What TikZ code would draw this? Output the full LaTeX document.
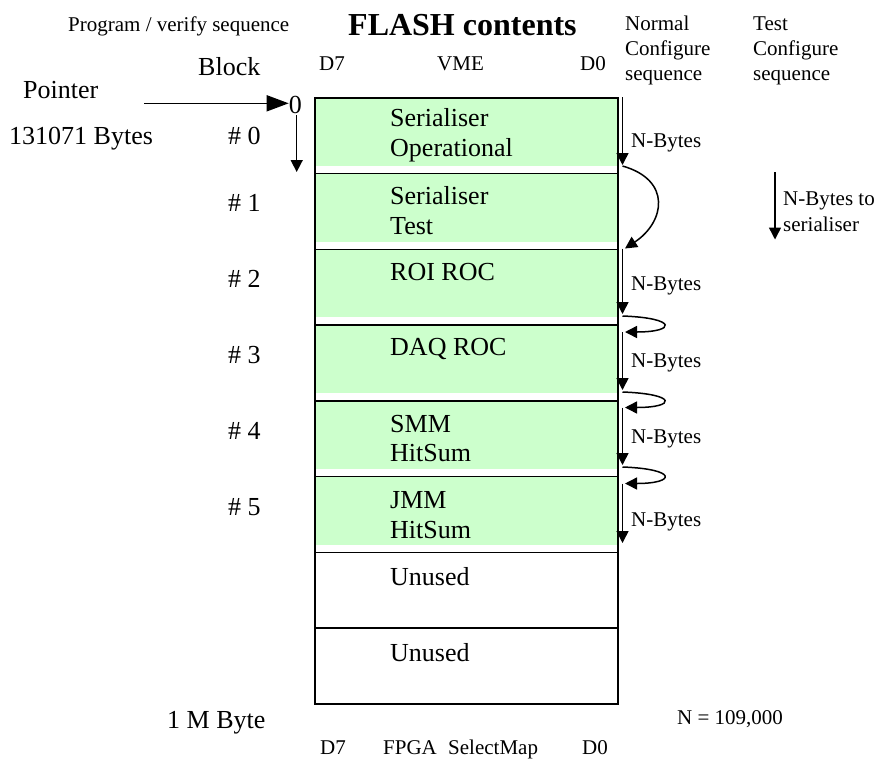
\documentclass[tikz,border=0pt]{standalone}
\usepackage{fontspec}
\setmainfont{Liberation Serif}
\usetikzlibrary{arrows.meta}
\definecolor{memgreen}{HTML}{CCFFCC}
% multi-line nodes are placed by the baseline of their last line
\tikzset{
  big/.style={font=\fontsize{26}{29.5}\selectfont, inner sep=0pt, anchor=base west, align=left},
  small/.style={font=\fontsize{21}{25}\selectfont, inner sep=0pt, anchor=base west, align=left},
  heading/.style={font=\fontsize{32}{36}\selectfont\bfseries, inner sep=0pt, anchor=base west},
  rowbox/.style={draw=black, line width=1.5pt, minimum width=303pt, minimum height=75.75pt,
    anchor=north west, inner sep=0pt},
  band/.style={fill=memgreen},
  flow/.style={line width=1.5pt, -{Triangle[length=12pt,width=12pt]}},
  ptr/.style={line width=1.6pt, -{Triangle[length=22pt,width=16pt]}},
}
\begin{document}
\begin{tikzpicture}[x=1pt,y=-1pt]
\useasboundingbox (0,0) rectangle (877,758);

% green bands of the used blocks
\foreach \t in {97,172.75,248.5,324.25,400,475.75}
  \fill[band] (314,\t) rectangle (617,\t+68.75);

% memory rows
\node[rowbox] (r0) at (314,97) {};
\node[rowbox] (r1) at (314,172.75) {};
\node[rowbox] (r2) at (314,248.5) {};
\node[rowbox] (r3) at (314,324.25) {};
\node[rowbox] (r4) at (314,400) {};
\node[rowbox] (r5) at (314,475.75) {};
\node[rowbox] (r6) at (314,551.5) {};
\node[rowbox] (r7) at (314,627.25) {};

% row contents
\node[big] (t0) at (390,156) {Serialiser\\Operational};
\node[big] (t1) at (390,234) {Serialiser\\Test};
\node[big] (t2) at (390,280) {ROI ROC};
\node[big] (t3) at (390,355.7) {DAQ ROC};
\node[big] (t4) at (390,461.7) {SMM\\HitSum};
\node[big] (t5) at (390,538) {JMM\\HitSum};
\node[big] (t6) at (390,585) {Unused};
\node[big] (t7) at (390,661) {Unused};

% block numbers
\node[big] (b0) at (228,144.7) {\# 0};
\node[big] (b1) at (228,211.7) {\# 1};
\node[big] (b2) at (228,287.3) {\# 2};
\node[big] (b3) at (228,363.3) {\# 3};
\node[big] (b4) at (228,439.3) {\# 4};
\node[big] (b5) at (228,515) {\# 5};

% headings
\node[small] (prog) at (68,31) {Program / verify sequence};
\node[heading] (title) at (348,35) {FLASH contents};
\node[small] (normal) at (625,80) {Normal\\Configure\\sequence};
\node[small] (test) at (753,80) {Test\\Configure\\sequence};
\node[big] (block) at (198,75) {Block};
\node[small] (d7top) at (319,70) {D7};
\node[small] (vme) at (437,70) {VME};
\node[small] (d0top) at (580,70) {D0};

% pointer
\node[big] (pointer) at (23,98.3) {Pointer};
\node[big] (bytes) at (9,144.7) {131071 Bytes};
\node[big] (zero) at (288.7,113) {0};
\coordinate (ptrtail) at (144,103.3);
\draw[ptr] (ptrtail) -- (ptrtail -| zero.west);
\coordinate (pd0) at (296.7,115);
\coordinate (pd1) at (296.7,172);
\draw[flow] (pd0) -- (pd1);

% normal configure sequence
\coordinate (n0a) at (622.5,97);    \coordinate (n0b) at (622.5,165);
\coordinate (c1a) at (622.5,166);   \coordinate (c1b) at (625,248.5);
\coordinate (n2a) at (622.5,248.5); \coordinate (n2b) at (622.5,314);
\coordinate (l3a) at (622.5,316);   \coordinate (l3b) at (625,332);
\coordinate (n3a) at (622.5,332);   \coordinate (n3b) at (622.5,390);
\coordinate (l4a) at (622.5,392);   \coordinate (l4b) at (625,407.5);
\coordinate (n4a) at (622.5,407.5); \coordinate (n4b) at (622.5,465);
\coordinate (l5a) at (622.5,467);   \coordinate (l5b) at (625,483.5);
\coordinate (n5a) at (622.5,483.5); \coordinate (n5b) at (622.5,543);

\draw[flow] (n0a) -- (n0b);
\draw[flow] (c1a) .. controls (672,180) and (665,222) .. (c1b);
\draw[flow] (n2a) -- (n2b);
\draw[flow] (l3a) .. controls (678,318) and (676,332) .. (l3b);
\draw[flow] (n3a) -- (n3b);
\draw[flow] (l4a) .. controls (678,394) and (676,407.5) .. (l4b);
\draw[flow] (n4a) -- (n4b);
\draw[flow] (l5a) .. controls (678,469) and (676,483.5) .. (l5b);
\draw[flow] (n5a) -- (n5b);

\node[small] (nb0) at (631,147) {N-Bytes};
\node[small] (nb2) at (631,290) {N-Bytes};
\node[small] (nb3) at (631,367) {N-Bytes};
\node[small] (nb4) at (631,443) {N-Bytes};
\node[small] (nb5) at (631,526) {N-Bytes};

% legend arrow
\coordinate (lg0) at (775,172);
\coordinate (lg1) at (775,239.5);
\draw[flow] (lg0) -- (lg1);
\node[small, font=\fontsize{21}{26.7}\selectfont] (lgtext) at (783,231.7) {N-Bytes to\\serialiser};

% footer
\node[big] (mbyte) at (167,728) {1 M Byte};
\node[small] (nval) at (677,724) {N = 109,000};
\node[small] (d7bot) at (320,754) {D7};
\node[small] (fpga) at (383,754) {FPGA};
\node[small] (smap) at (448,754) {SelectMap};
\node[small] (d0bot) at (582,754) {D0};
\end{tikzpicture}
\end{document}
